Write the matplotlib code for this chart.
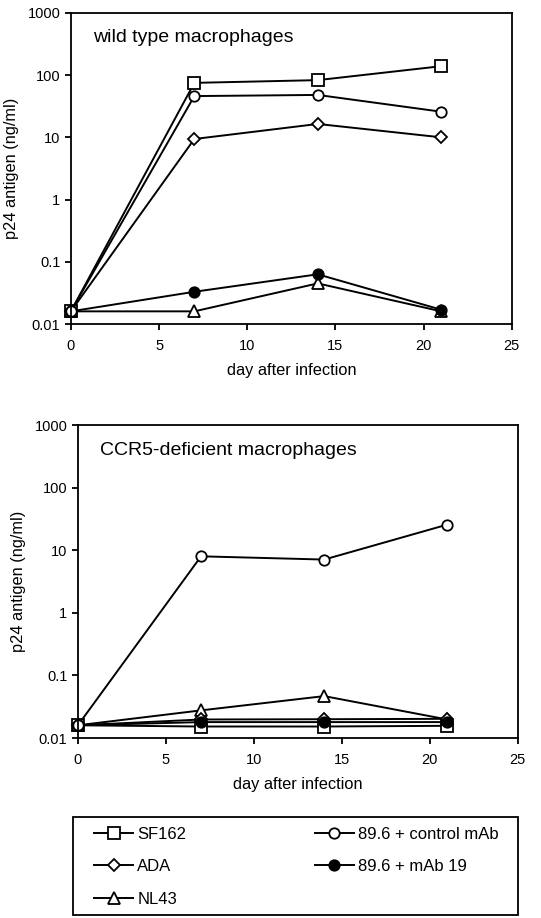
import matplotlib
matplotlib.use("Agg")
import matplotlib.pyplot as plt
import matplotlib.patches as mpatches
from matplotlib.ticker import FixedLocator, FixedFormatter, NullLocator

plt.rcParams["font.family"] = ["Liberation Sans", "DejaVu Sans"]

days = [0, 7, 14, 21]
series_names = ["SF162", "ADA", "NL43", "89.6 + control mAb", "89.6 + mAb 19"]

# wild type macrophages
wt_sf162 = [0.016, 75, 83, 139]
wt_ada = [0.016, 9.4, 16.4, 10.0]
wt_nl43 = [0.016, 0.016, 0.045, 0.016]
wt_control = [0.016, 46, 48, 25.8]
wt_mab19 = [0.016, 0.033, 0.063, 0.017]

# CCR5-deficient macrophages
ko_sf162 = [0.016, 0.0153, 0.0153, 0.0157]
ko_ada = [0.016, 0.0198, 0.020, 0.0203]
ko_nl43 = [0.016, 0.0277, 0.0468, 0.0198]
ko_control = [0.016, 8.0, 7.1, 25.7]
ko_mab19 = [0.016, 0.018, 0.018, 0.018]

y_ticks = [0.01, 0.1, 1, 10, 100, 1000]
y_tick_labels = ["0.01", "0.1", "1", "10", "100", "1000"]
x_ticks = [0, 5, 10, 15, 20, 25]

# marker, face colour, size, zorder for each series
STYLES = {
    "SF162": ("s", "white", 8.5, 2.0),
    "ADA": ("D", "white", 6.5, 2.2),
    "NL43": ("^", "white", 8.5, 2.1),
    "89.6 + control mAb": ("o", "white", 7.5, 2.4),
    "89.6 + mAb 19": ("o", "black", 7.5, 2.3),
}


def draw_panel(ax, values, title):
    for name, ys in zip(series_names, values):
        marker, face, size, z = STYLES[name]
        ax.plot(days, ys, color="black", lw=1.4, marker=marker, ms=size,
                mfc=face, mec="black", mew=1.3, clip_on=False, label=name,
                zorder=z)
    ax.set_yscale("log")
    ax.set_ylim(0.01, 1000)
    ax.set_xlim(0, 25)
    ax.yaxis.set_major_locator(FixedLocator(y_ticks))
    ax.yaxis.set_major_formatter(FixedFormatter(y_tick_labels))
    ax.yaxis.set_minor_locator(NullLocator())
    ax.set_xticks(x_ticks)
    ax.tick_params(direction="out", length=4, width=1.3, labelsize=10.5,
                   colors="black")
    ax.tick_params(axis="x", pad=7)
    for sp in ax.spines.values():
        sp.set_linewidth(1.3)
    ax.set_xlabel("day after infection", fontsize=11.8, labelpad=7)
    ax.set_ylabel("p24 antigen (ng/ml)", fontsize=11.8, labelpad=6)
    ax.text(0.05, 0.92, title, transform=ax.transAxes, fontsize=14,
            va="center", ha="left")


fig = plt.figure(figsize=(5.41, 9.18), dpi=100)
ax1 = fig.add_axes([0.131, 0.647, 0.815, 0.339])
ax2 = fig.add_axes([0.144, 0.196, 0.813, 0.341])

draw_panel(ax1, [wt_sf162, wt_ada, wt_nl43, wt_control, wt_mab19],
           "wild type macrophages")
draw_panel(ax2, [ko_sf162, ko_ada, ko_nl43, ko_control, ko_mab19],
           "CCR5-deficient macrophages")

# legend box drawn separately so its padding can differ from the entries
box = mpatches.Rectangle((0.135, 0.003), 0.822, 0.107, transform=fig.transFigure,
                         fill=False, edgecolor="black", linewidth=1.3)
fig.add_artist(box)

handles, labels = ax1.get_legend_handles_labels()
fig.legend(handles, labels, ncol=2, loc="upper left",
           bbox_to_anchor=(0.174, 0.0995), frameon=False,
           fontsize=12, handlelength=2.35, handletextpad=0.25,
           labelspacing=1.05, borderaxespad=0, borderpad=0,
           columnspacing=7.7)

fig.savefig("out.png", dpi=100, facecolor="white")
